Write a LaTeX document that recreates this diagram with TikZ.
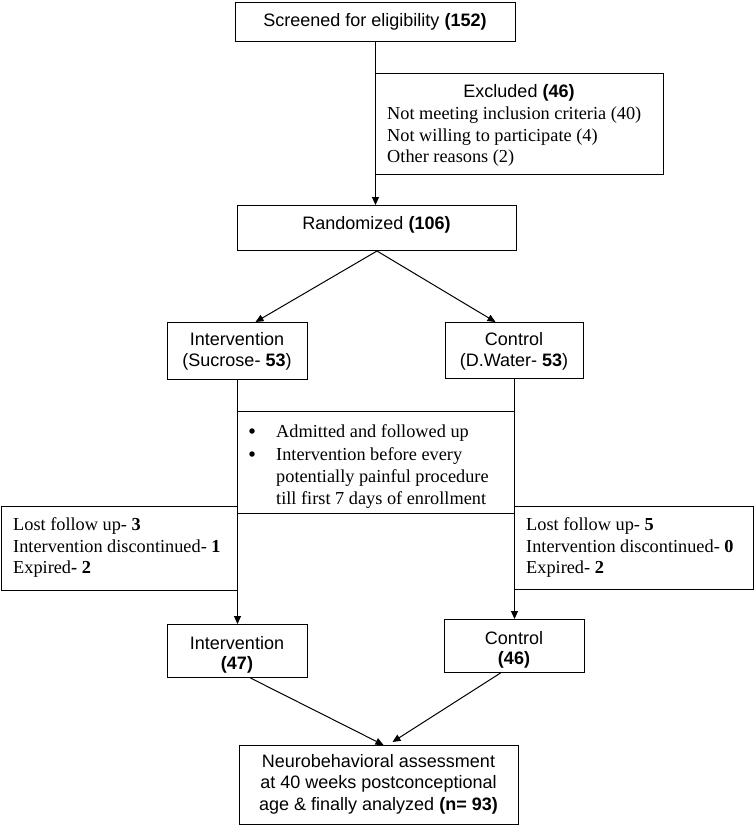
\documentclass[tikz,border=0pt]{standalone}
\usepackage{fontspec}
\setmainfont{Liberation Serif}
\setsansfont{Liberation Sans}
\usetikzlibrary{arrows.meta}
\begin{document}
\begin{tikzpicture}[x=1pt,y=-1pt,
  box/.style={draw, line width=1pt, inner sep=0pt, anchor=north west},
  arr/.style={line width=1pt, -{Triangle[length=8pt,width=7pt]}},
  hd/.style={font=\sffamily\fontsize{18}{21.5}\selectfont, inner sep=0pt, anchor=base},
  tx/.style={font=\rmfamily\fontsize{18.3}{22}\selectfont, inner sep=0pt, anchor=base west},
  bul/.style={circle, fill, inner sep=0pt, minimum size=5.5pt}]
\useasboundingbox (0,0) rectangle (755,828);

% boxes
\node[box, minimum width=280pt, minimum height=39pt] (screen) at (235,2) {};
\node[box, minimum width=288pt, minimum height=101pt] (excl) at (375,73) {};
\node[box, minimum width=279pt, minimum height=45pt] (rand) at (237,205) {};
\node[box, minimum width=140pt, minimum height=57pt] (int1) at (167,322) {};
\node[box, minimum width=138pt, minimum height=56pt] (ctl1) at (445,322) {};
\node[box, minimum width=277pt, minimum height=102pt] (mid) at (237,411) {};
\node[box, minimum width=236pt, minimum height=84pt] (lost1) at (1,506) {};
\node[box, minimum width=239pt, minimum height=83pt] (lost2) at (514,506) {};
\node[box, minimum width=140pt, minimum height=53pt] (int2) at (167,624) {};
\node[box, minimum width=140pt, minimum height=53pt] (ctl2) at (444,619) {};
\node[box, minimum width=279pt, minimum height=79pt] (final) at (239,745) {};

% texts
\node[hd] (screenT) at (375,26) {Screened for eligibility \textbf{(152)}};
\node[hd] (exclT) at (519,97) {Excluded \textbf{(46)}};
\node[tx] (exclA) at (387,119) {Not meeting inclusion criteria (40)};
\node[tx] (exclB) at (387,141) {Not willing to participate (4)};
\node[tx] (exclC) at (387,162) {Other reasons (2)};
\node[hd] (randT) at (376.5,229) {Randomized \textbf{(106)}};
\node[hd] (int1A) at (237,345) {Intervention};
\node[hd] (int1B) at (237,366) {(Sucrose- \textbf{53})};
\node[hd] (ctl1A) at (514,345) {Control};
\node[hd] (ctl1B) at (514,366) {(D.Water- \textbf{53})};
\node[bul] (b1) at (252,431) {};
\node[bul] (b2) at (252,454) {};
\node[tx] (midA) at (276,437) {Admitted and followed up};
\node[tx] (midB) at (276,460) {Intervention before every};
\node[tx] (midC) at (276,482) {potentially painful procedure};
\node[tx] (midD) at (276,504) {till first 7 days of enrollment};
\node[tx] (l1A) at (13,530) {Lost follow up- \textbf{3}};
\node[tx] (l1B) at (13,552) {Intervention discontinued- \textbf{1}};
\node[tx] (l1C) at (13,573) {Expired\textbf{- 2}};
\node[tx] (l2A) at (526,530) {Lost follow up- \textbf{5}};
\node[tx] (l2B) at (526,552) {Intervention discontinued- \textbf{0}};
\node[tx] (l2C) at (526,573) {Expired- \textbf{2}};
\node[hd] (int2A) at (237,649) {Intervention};
\node[hd] (int2B) at (237,669) {\textbf{(47)}};
\node[hd] (ctl2A) at (514,644) {Control};
\node[hd] (ctl2B) at (514,664) {\textbf{(46)}};
\node[hd] (finA) at (378.5,767) {Neurobehavioral assessment};
\node[hd] (finB) at (378.5,788) {at 40 weeks postconceptional};
\node[hd] (finC) at (378.5,810) {age \& finally analyzed \textbf{(n= 93)}};

% connectors
\draw[arr] (screen.south) -- (screen.south |- rand.north);
\draw[arr] (rand.south) -- ([xshift=18pt]int1.north);
\draw[arr] (rand.south) -- ([xshift=-19pt]ctl1.north);
\draw[arr] (int1.south) -- (int2.north);
\draw[arr] (ctl1.south) -- (ctl2.north);
\draw[arr] ([xshift=13pt]int2.south) -- ([xshift=4.5pt]final.north);
\draw[arr] ([xshift=-14pt]ctl2.south) -- ([xshift=13.5pt,yshift=3pt]final.north);
\end{tikzpicture}
\end{document}
